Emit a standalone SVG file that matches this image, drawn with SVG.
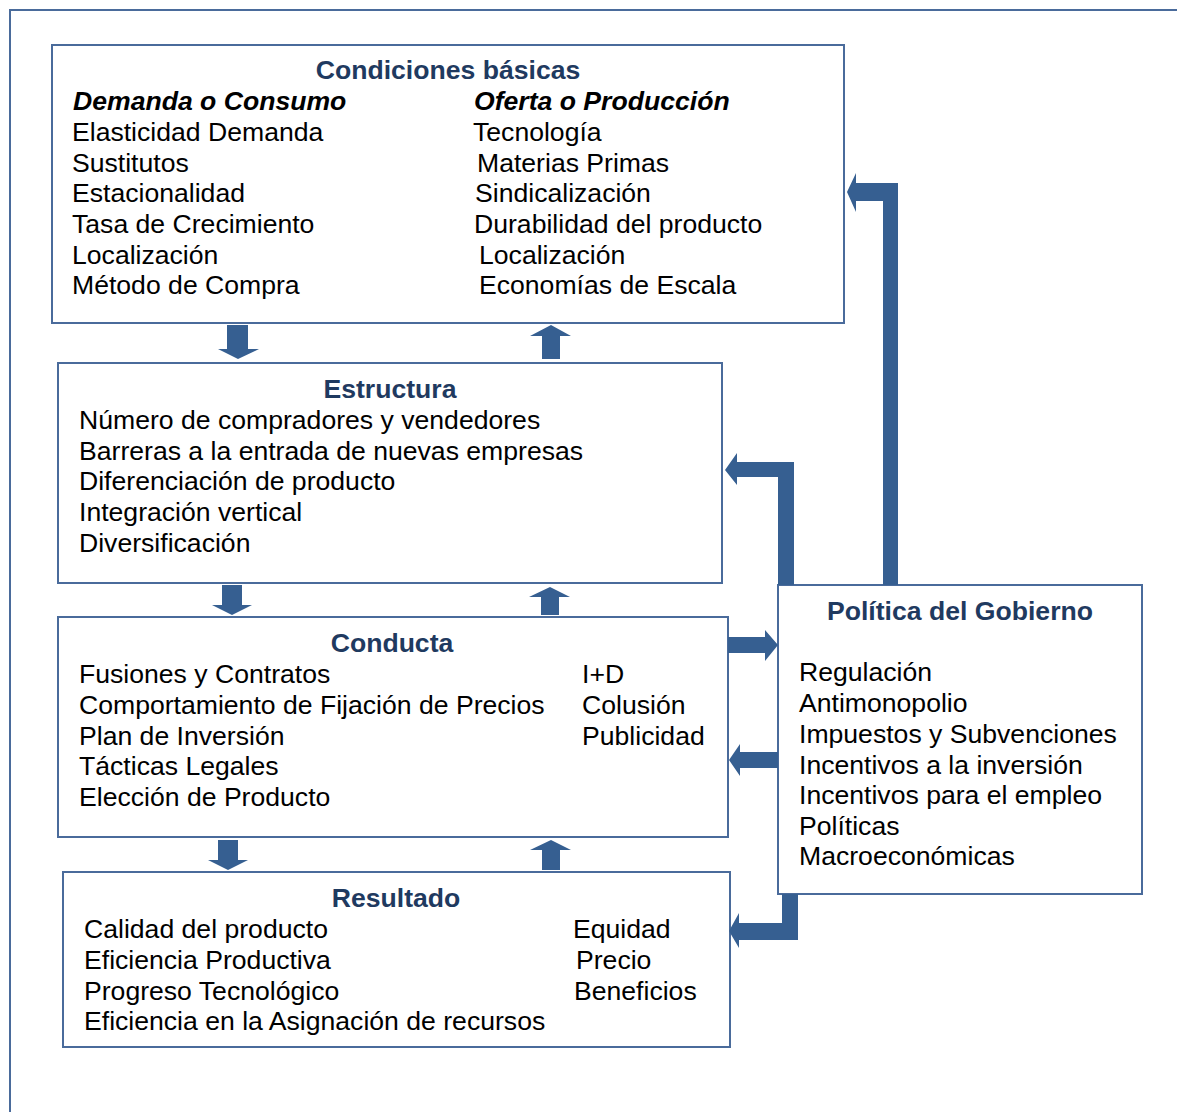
<svg xmlns="http://www.w3.org/2000/svg" width="1177" height="1112" viewBox="0 0 1177 1112">
<style>
.box{fill:#fff;stroke:#4A6B9B;stroke-width:2}
.t{font-family:"Liberation Sans",Arial,sans-serif;font-size:26.6px;fill:#000}
.h{font-family:"Liberation Sans",Arial,sans-serif;font-size:26.6px;font-weight:bold;fill:#1F3A60;text-anchor:middle}
.i{font-family:"Liberation Sans",Arial,sans-serif;font-size:26.6px;font-weight:bold;font-style:italic;fill:#000}
.a{fill:#365F91}
</style>
<rect width="1177" height="1112" fill="#fff"/>
<path d="M10,1112 V10 H1177" fill="none" stroke="#4A6B9B" stroke-width="2"/>

<g id="condiciones">
<rect class="box" x="52" y="45" width="792" height="278"/>
<text class="h" x="448" y="79">Condiciones básicas</text>
<text class="i" x="73" y="110">Demanda o Consumo</text>
<text class="t" x="72" y="141">Elasticidad Demanda</text>
<text class="t" x="72" y="172">Sustitutos</text>
<text class="t" x="72" y="202">Estacionalidad</text>
<text class="t" x="72" y="233">Tasa de Crecimiento</text>
<text class="t" x="72" y="264">Localización</text>
<text class="t" x="72" y="294">Método de Compra</text>
<text class="i" x="474" y="110">Oferta o Producción</text>
<text class="t" x="473" y="141">Tecnología</text>
<text class="t" x="477" y="172">Materias Primas</text>
<text class="t" x="475" y="202">Sindicalización</text>
<text class="t" x="474" y="233">Durabilidad del producto</text>
<text class="t" x="479" y="264">Localización</text>
<text class="t" x="479" y="294">Economías de Escala</text>
</g>

<g id="estructura">
<rect class="box" x="58" y="363" width="664" height="220"/>
<text class="h" x="390" y="398">Estructura</text>
<text class="t" x="79" y="429">Número de compradores y vendedores</text>
<text class="t" x="79" y="460">Barreras a la entrada de nuevas empresas</text>
<text class="t" x="79" y="490">Diferenciación de producto</text>
<text class="t" x="79" y="521">Integración vertical</text>
<text class="t" x="79" y="552">Diversificación</text>
</g>

<g id="conducta">
<rect class="box" x="58" y="617" width="670" height="220"/>
<text class="h" x="392" y="652">Conducta</text>
<text class="t" x="79" y="683">Fusiones y Contratos</text>
<text class="t" x="79" y="714">Comportamiento de Fijación de Precios</text>
<text class="t" x="79" y="745">Plan de Inversión</text>
<text class="t" x="79" y="775">Tácticas Legales</text>
<text class="t" x="79" y="806">Elección de Producto</text>
<text class="t" x="582" y="683">I+D</text>
<text class="t" x="582" y="714">Colusión</text>
<text class="t" x="582" y="745">Publicidad</text>
</g>

<g id="resultado">
<rect class="box" x="63" y="872" width="667" height="175"/>
<text class="h" x="396" y="907">Resultado</text>
<text class="t" x="84" y="938">Calidad del producto</text>
<text class="t" x="84" y="969">Eficiencia Productiva</text>
<text class="t" x="84" y="1000">Progreso Tecnológico</text>
<text class="t" x="84" y="1030">Eficiencia en la Asignación de recursos</text>
<text class="t" x="573" y="938">Equidad</text>
<text class="t" x="576" y="969">Precio</text>
<text class="t" x="574" y="1000">Beneficios</text>
</g>

<g id="politica">
<rect class="box" x="778" y="585" width="364" height="309"/>
<text class="h" x="960" y="620">Política del Gobierno</text>
<text class="t" x="799" y="681">Regulación</text>
<text class="t" x="799" y="712">Antimonopolio</text>
<text class="t" x="799" y="743">Impuestos y Subvenciones</text>
<text class="t" x="799" y="774">Incentivos a la inversión</text>
<text class="t" x="799" y="804">Incentivos para el empleo</text>
<text class="t" x="799" y="835">Políticas</text>
<text class="t" x="799" y="865">Macroeconómicas</text>
</g>

<g id="connectors">
<polygon class="a" points="227,325 248,325 248,349 259,349 238,359 218,349 227,349"/>
<polygon class="a" points="542,359 560,359 560,336 571,336 551,325 530,336 542,336"/>
<polygon class="a" points="222,585 242,585 242,605 252,605 232,615 212,605 222,605"/>
<polygon class="a" points="541,615 559,615 559,597 570,597 550,587 529,597 541,597"/>
<polygon class="a" points="218,840 238,840 238,860 248,860 228,870 208,860 218,860"/>
<polygon class="a" points="542,870 560,870 560,850 571,850 551,840 530,850 542,850"/>
<polygon class="a" points="898,585 883,585 883,201 856,201 856,212 847,192 856,173 856,183 898,183"/>
<polygon class="a" points="794,585 778,585 778,477 737,477 737,485 725,470 737,453 737,462 794,462"/>
<polygon class="a" points="728,637 765,637 765,630 778,645 765,661 765,653 728,653"/>
<polygon class="a" points="778,752 740,752 740,744 729,760 740,776 740,768 778,768"/>
<polygon class="a" points="782,894 798,894 798,940 739,940 739,948 729,931 739,913 739,923 782,923"/>
</g>
</svg>
